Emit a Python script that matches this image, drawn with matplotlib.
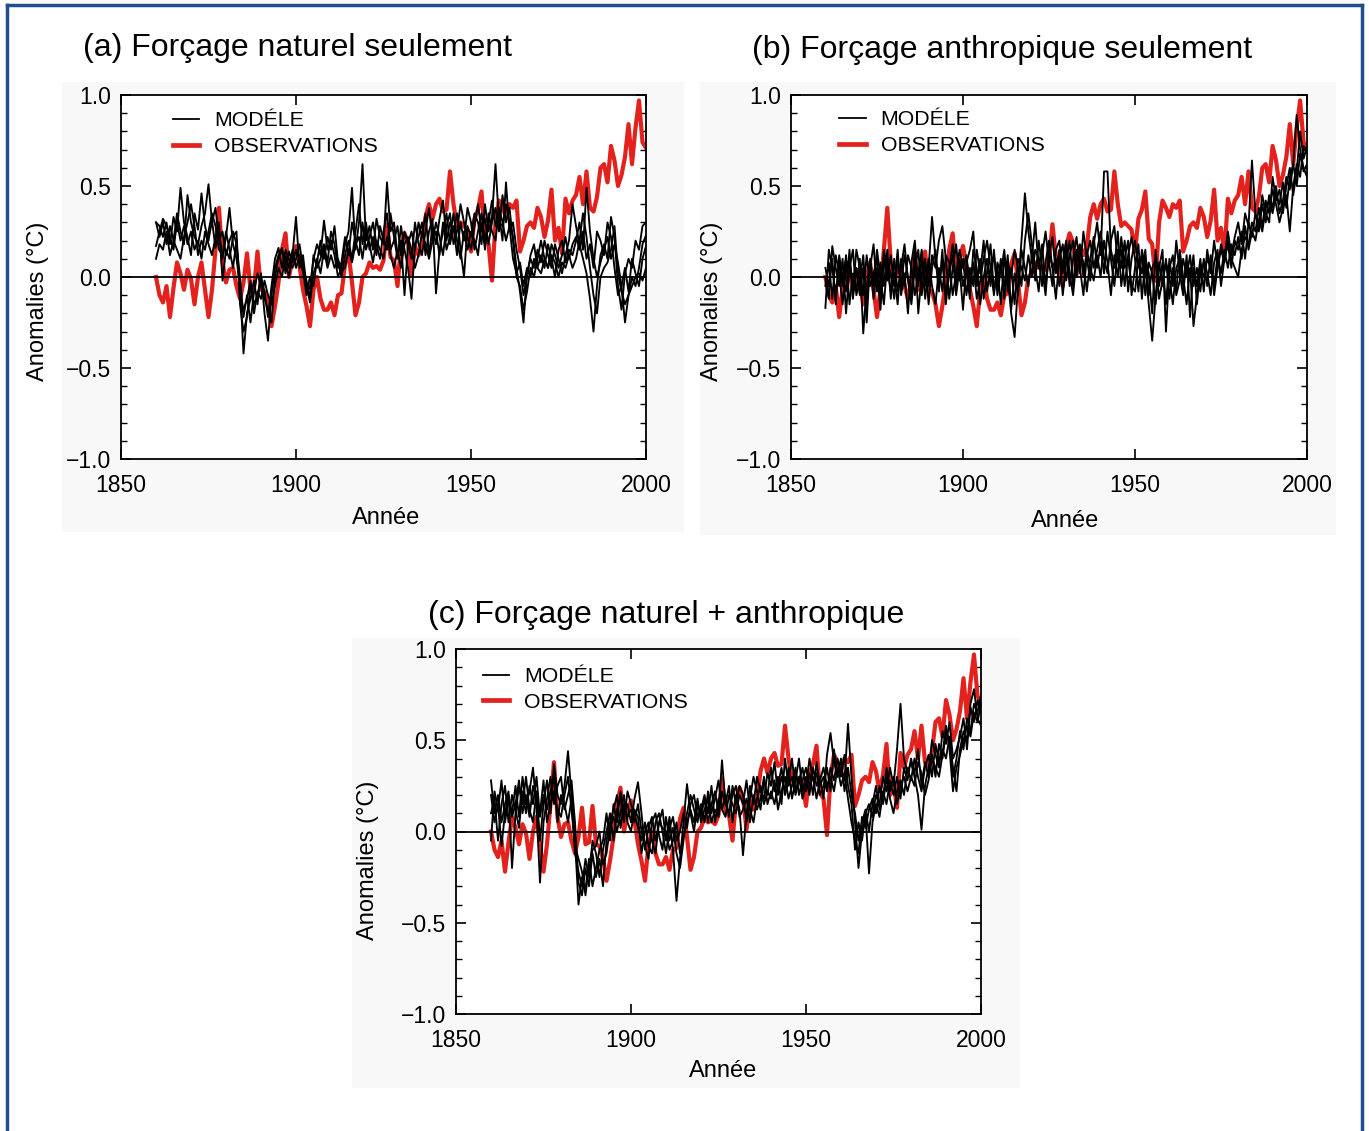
import numpy as np
import matplotlib
matplotlib.use("Agg")
import matplotlib.pyplot as plt
from matplotlib.lines import Line2D
from matplotlib.patches import Rectangle
from matplotlib.ticker import FuncFormatter

plt.rcParams['font.family'] = ['Liberation Sans', 'DejaVu Sans']

W, H = 1369, 1131
years = np.arange(1860, 2001)

# observed global mean anomalies (same red curve in all three panels)
obs = [
    0.00, -0.10, -0.14, -0.05, -0.22, -0.06, 0.08, 0.02, -0.07, 0.04,
    -0.01, -0.15, 0.00, 0.08, -0.07, -0.22, -0.07, 0.15, 0.38, 0.08,
    -0.03, 0.04, 0.05, -0.05, -0.12, -0.03, 0.13, -0.07, -0.06, 0.14,
    -0.07, -0.08, -0.15, -0.27, -0.16, -0.03, 0.15, 0.24, 0.00, 0.10,
    0.17, 0.06, -0.07, -0.16, -0.27, -0.07, 0.00, -0.12, -0.18, -0.18,
    -0.14, -0.21, -0.10, -0.09, 0.07, 0.13, -0.03, -0.21, -0.14, 0.00,
    0.02, 0.08, 0.05, 0.06, 0.04, 0.09, 0.29, 0.11, 0.09, -0.05,
    0.17, 0.24, 0.19, 0.01, 0.17, 0.12, 0.17, 0.33, 0.40, 0.32,
    0.40, 0.43, 0.36, 0.37, 0.58, 0.40, 0.28, 0.30, 0.28, 0.26,
    0.14, 0.32, 0.37, 0.47, 0.21, 0.18, -0.02, 0.30, 0.42, 0.38,
    0.33, 0.40, 0.38, 0.42, 0.14, 0.20, 0.28, 0.30, 0.27, 0.38,
    0.33, 0.22, 0.31, 0.48, 0.20, 0.27, 0.13, 0.43, 0.35, 0.42,
    0.45, 0.55, 0.40, 0.58, 0.38, 0.36, 0.44, 0.60, 0.62, 0.52,
    0.72, 0.64, 0.50, 0.56, 0.66, 0.84, 0.62, 0.82, 0.97, 0.74,
    0.71,
]

# (a) natural forcing only - four model runs
nat_1 = [
    0.30, 0.28, 0.22, 0.30, 0.18, 0.33, 0.25, 0.49, 0.30, 0.22,
    0.12, 0.35, 0.26, 0.46, 0.28, 0.20, 0.31, 0.16, 0.25, 0.10,
    0.22, 0.38, 0.18, 0.10, -0.05, -0.42, -0.20, -0.12, -0.02, -0.15,
    0.02, -0.20, -0.35, -0.10, 0.05, 0.12, 0.16, 0.02, 0.14, 0.08,
    0.15, 0.10, 0.03, -0.10, -0.05, 0.10, 0.18, 0.12, 0.31, 0.15,
    0.20, 0.12, 0.00, 0.05, 0.18, 0.25, 0.49, 0.15, 0.30, 0.62,
    0.20, 0.28, 0.15, 0.32, 0.22, 0.18, 0.52, 0.25, 0.30, 0.12,
    0.20, -0.10, 0.18, 0.25, 0.15, 0.30, 0.22, 0.35, 0.12, 0.28,
    0.18, 0.32, 0.42, 0.20, 0.30, 0.25, 0.35, 0.15, 0.00, 0.28,
    0.22, 0.35, 0.30, 0.18, 0.40, 0.25, 0.33, 0.62, 0.30, 0.28,
    0.40, 0.30, 0.22, 0.05, -0.08, -0.25, 0.02, 0.10, 0.05, 0.15,
    0.08, 0.20, 0.12, 0.05, 0.18, 0.10, 0.02, 0.12, 0.20, 0.40,
    0.28, 0.18, 0.10, 0.02, -0.12, -0.30, -0.05, 0.12, 0.18, 0.10,
    0.33, 0.22, -0.05, -0.18, 0.02, 0.10, 0.05, 0.20, 0.15, 0.28,
    0.30,
]
nat_2 = [
    0.30, 0.22, 0.30, 0.18, 0.28, 0.20, 0.35, 0.25, 0.18, 0.45,
    0.30, 0.22, 0.18, 0.28, 0.35, 0.51, 0.30, 0.38, 0.20, 0.25,
    0.12, 0.20, 0.25, 0.18, 0.00, -0.22, -0.10, -0.25, -0.08, 0.02,
    -0.05, -0.12, -0.18, -0.25, 0.00, 0.10, 0.15, 0.08, 0.00, 0.12,
    0.33, 0.05, 0.12, -0.05, -0.14, 0.02, 0.08, 0.20, 0.10, 0.22,
    0.15, 0.28, 0.08, 0.00, 0.12, 0.20, 0.10, 0.25, 0.40, 0.18,
    0.30, 0.15, 0.22, 0.12, 0.28, 0.20, 0.15, 0.35, 0.22, 0.10,
    0.28, 0.15, 0.05, -0.12, 0.18, 0.22, 0.30, 0.12, 0.25, 0.32,
    -0.09, 0.15, 0.25, 0.35, 0.18, 0.28, 0.12, 0.30, 0.20, 0.38,
    0.30, 0.15, 0.25, 0.35, 0.20, 0.30, 0.42, 0.28, 0.35, 0.20,
    0.52, 0.25, 0.30, 0.15, 0.05, -0.10, 0.00, 0.12, 0.18, 0.05,
    0.12, 0.05, 0.18, 0.10, 0.00, 0.15, 0.20, 0.08, 0.15, 0.12,
    0.20, 0.30, 0.15, 0.49, 0.25, 0.10, 0.00, 0.08, 0.15, 0.22,
    0.10, 0.18, 0.08, -0.05, -0.25, -0.10, 0.00, -0.05, 0.05, 0.18,
    0.23,
]
nat_3 = [
    0.17, 0.25, 0.32, 0.28, 0.22, 0.15, 0.30, 0.20, 0.28, 0.18,
    0.25, 0.15, 0.20, 0.10, 0.25, 0.18, 0.12, 0.22, 0.30, -0.02,
    0.15, 0.10, 0.22, 0.25, -0.15, -0.30, -0.22, -0.05, -0.15, -0.10,
    0.00, -0.08, -0.22, -0.05, 0.10, 0.16, 0.05, 0.15, 0.10, 0.05,
    0.10, 0.18, 0.05, -0.02, -0.12, 0.12, 0.05, 0.10, 0.18, 0.08,
    0.25, 0.18, 0.05, 0.08, 0.22, 0.12, 0.30, 0.20, 0.12, 0.30,
    0.15, 0.22, 0.30, 0.18, 0.10, 0.25, 0.35, 0.15, 0.20, 0.28,
    0.12, 0.25, 0.18, 0.10, 0.30, 0.18, 0.12, 0.25, 0.38, 0.20,
    0.30, 0.22, 0.12, 0.28, 0.35, 0.18, 0.25, 0.40, 0.30, 0.22,
    0.15, 0.28, 0.40, 0.25, 0.32, 0.18, 0.30, 0.38, 0.25, 0.45,
    0.30, 0.38, 0.20, 0.00, -0.05, -0.18, -0.08, 0.05, 0.00, 0.10,
    0.20, 0.10, 0.05, 0.18, 0.12, 0.05, 0.12, 0.22, 0.10, 0.18,
    0.22, 0.15, 0.25, 0.10, 0.18, 0.05, 0.25, 0.20, 0.12, 0.30,
    0.22, 0.05, -0.10, -0.05, 0.05, -0.08, 0.10, 0.02, -0.05, 0.10,
    0.17,
]
nat_4 = [
    0.10, 0.18, 0.15, 0.25, 0.12, 0.20, 0.15, 0.10, 0.22, 0.30,
    0.40, 0.28, 0.12, 0.20, 0.15, 0.25, 0.35, 0.28, 0.15, 0.12,
    0.25, 0.15, 0.05, 0.20, -0.10, -0.18, -0.12, -0.02, -0.20, -0.08,
    -0.12, -0.02, -0.10, -0.15, -0.05, 0.05, 0.00, 0.12, 0.05, 0.15,
    0.05, 0.12, 0.08, -0.08, 0.00, -0.05, 0.10, 0.02, 0.15, 0.05,
    0.12, 0.05, 0.10, 0.03, 0.05, 0.15, 0.08, 0.18, 0.22, 0.10,
    0.25, 0.18, 0.08, 0.20, 0.15, 0.10, 0.22, 0.12, 0.05, 0.15,
    0.05, 0.18, 0.22, 0.15, 0.05, 0.12, 0.25, 0.18, 0.10, 0.20,
    0.25, 0.12, 0.30, 0.15, 0.22, 0.35, 0.20, 0.10, 0.25, 0.15,
    0.25, 0.20, 0.12, 0.30, 0.15, 0.35, 0.25, 0.20, 0.38, 0.30,
    0.20, 0.28, 0.10, 0.02, 0.08, -0.05, 0.05, 0.00, 0.10, 0.05,
    0.02, 0.10, 0.05, 0.12, 0.08, 0.00, 0.08, 0.05, 0.12, 0.05,
    0.10, 0.20, 0.35, 0.22, 0.05, -0.10, -0.20, 0.00, 0.05, 0.08,
    0.15, 0.28, 0.02, -0.08, -0.15, -0.10, -0.05, 0.00, 0.02, -0.02,
    0.05,
]

# (b) anthropogenic forcing only
ant_1 = [
    -0.17, 0.15, 0.05, -0.10, 0.08, -0.05, 0.12, -0.15, 0.02, -0.08,
    0.10, -0.31, -0.05, 0.08, -0.12, 0.05, -0.18, 0.10, -0.02, 0.12,
    -0.05, 0.15, -0.10, 0.02, -0.20, 0.08, 0.20, -0.05, 0.10, -0.12,
    0.05, 0.33, 0.10, -0.08, 0.15, -0.15, 0.02, 0.12, -0.10, 0.05,
    -0.18, 0.08, 0.15, 0.25, -0.05, 0.10, -0.12, 0.02, 0.18, -0.08,
    0.05, -0.15, 0.10, 0.00, -0.20, -0.33, -0.05, 0.20, 0.46, 0.25,
    0.10, 0.30, 0.05, 0.18, -0.05, 0.12, 0.22, 0.02, 0.15, -0.10,
    0.08, 0.20, -0.05, 0.15, 0.02, 0.25, 0.10, -0.02, 0.18, 0.30,
    0.12, 0.58, 0.58, 0.15, 0.05, 0.25, -0.05, 0.10, 0.20, -0.10,
    0.05, 0.18, -0.12, 0.10, 0.02, -0.20, 0.15, -0.05, 0.08, -0.15,
    0.10, -0.05, 0.20, 0.02, -0.10, 0.12, -0.22, 0.05, -0.05, 0.10,
    -0.08, 0.15, 0.02, 0.20, 0.05, 0.18, 0.10, 0.25, 0.12, 0.22,
    0.30, 0.18, 0.35, 0.28, 0.64, 0.35, 0.25, 0.40, 0.30, 0.45,
    0.38, 0.50, 0.35, 0.42, 0.55, 0.48, 0.62, 0.89, 0.70, 0.60,
    0.55,
]
ant_2 = [
    0.00, -0.12, 0.17, 0.05, -0.05, 0.10, -0.20, 0.05, 0.15, -0.10,
    -0.02, 0.12, -0.15, 0.05, 0.18, -0.08, 0.08, -0.05, 0.15, -0.12,
    0.10, -0.08, 0.05, 0.18, -0.02, -0.15, 0.05, 0.15, -0.10, 0.08,
    -0.05, 0.12, 0.05, 0.20, 0.28, 0.10, -0.12, 0.05, 0.18, -0.02,
    0.10, -0.10, 0.05, -0.05, 0.15, 0.02, 0.20, -0.08, 0.05, 0.12,
    -0.05, 0.10, -0.12, 0.08, 0.00, 0.15, 0.05, -0.05, 0.20, 0.35,
    0.18, 0.05, -0.08, 0.12, 0.25, 0.08, -0.05, 0.15, 0.20, 0.02,
    0.15, -0.05, 0.10, 0.22, 0.05, -0.10, 0.12, 0.20, 0.05, 0.15,
    0.25, 0.10, 0.02, 0.20, 0.28, 0.08, 0.15, -0.05, 0.12, 0.22,
    0.10, -0.08, 0.15, 0.05, -0.15, -0.35, -0.10, 0.08, -0.05, 0.10,
    -0.12, 0.05, -0.08, 0.15, 0.00, -0.15, 0.05, -0.27, -0.10, 0.02,
    0.08, -0.05, 0.12, -0.10, 0.05, 0.15, 0.08, 0.20, 0.10, 0.05,
    0.00, 0.15, 0.22, 0.18, 0.30, 0.25, 0.38, 0.28, 0.42, 0.35,
    0.48, 0.40, 0.30, 0.38, 0.45, 0.25, 0.50, 0.62, 0.55, 0.72,
    0.68,
]
ant_3 = [
    -0.05, 0.08, -0.12, 0.12, 0.02, -0.15, 0.05, 0.10, -0.08, 0.15,
    0.05, -0.10, 0.12, -0.05, 0.02, 0.10, -0.12, 0.15, 0.05, -0.08,
    0.02, -0.15, 0.10, -0.05, 0.12, 0.05, -0.10, 0.02, 0.15, -0.05,
    0.10, -0.05, -0.15, 0.05, -0.08, 0.12, 0.08, -0.10, 0.02, 0.15,
    0.05, 0.12, -0.05, 0.08, -0.12, -0.02, 0.10, 0.20, 0.05, -0.10,
    0.08, 0.02, 0.15, -0.08, 0.05, -0.15, 0.10, 0.05, -0.02, 0.12,
    0.00, 0.15, 0.10, -0.05, 0.08, 0.20, 0.05, -0.12, 0.10, 0.18,
    -0.02, 0.12, 0.20, 0.00, 0.15, 0.08, -0.08, 0.10, 0.22, 0.05,
    0.18, 0.02, 0.25, 0.10, -0.05, 0.15, 0.05, 0.20, -0.08, 0.10,
    0.20, 0.05, 0.12, -0.10, 0.08, 0.02, -0.15, 0.05, 0.15, -0.30,
    0.05, 0.12, -0.10, -0.02, 0.10, 0.00, 0.12, -0.05, 0.05, -0.08,
    0.10, 0.02, -0.10, 0.08, 0.15, -0.05, 0.10, 0.18, 0.05, 0.20,
    0.15, 0.25, 0.10, 0.30, 0.22, 0.35, 0.28, 0.45, 0.35, 0.30,
    0.55, 0.42, 0.48, 0.35, 0.50, 0.60, 0.45, 0.58, 0.80, 0.65,
    0.72,
]
ant_4 = [
    0.05, -0.05, 0.10, -0.15, 0.12, 0.00, -0.08, 0.15, -0.12, 0.05,
    -0.10, 0.05, -0.25, 0.10, -0.05, 0.15, 0.00, -0.15, 0.08, 0.02,
    -0.12, 0.10, -0.05, 0.12, 0.00, -0.10, 0.15, -0.20, 0.02, 0.10,
    -0.15, 0.05, 0.15, -0.05, 0.08, -0.10, 0.05, 0.18, -0.05, 0.10,
    -0.05, 0.05, -0.12, 0.15, 0.05, -0.15, 0.00, 0.10, -0.05, 0.15,
    -0.10, 0.05, -0.05, 0.12, -0.18, 0.02, -0.10, 0.15, 0.05, -0.05,
    0.12, -0.02, 0.20, 0.05, -0.10, 0.15, 0.05, 0.10, -0.05, 0.08,
    0.20, 0.02, -0.10, 0.10, 0.18, 0.00, 0.15, 0.05, -0.02, 0.12,
    0.00, 0.20, 0.08, -0.10, 0.12, 0.00, 0.22, 0.05, 0.10, -0.05,
    -0.08, 0.10, 0.02, 0.15, -0.10, 0.05, 0.10, -0.12, -0.02, 0.08,
    0.00, -0.15, 0.05, 0.10, -0.05, 0.08, -0.02, 0.12, -0.15, 0.05,
    0.00, 0.10, 0.05, -0.05, 0.12, 0.02, 0.15, 0.05, 0.18, 0.12,
    0.22, 0.10, 0.28, 0.15, 0.25, 0.20, 0.32, 0.25, 0.38, 0.42,
    0.35, 0.45, 0.40, 0.52, 0.38, 0.55, 0.62, 0.50, 0.68, 0.58,
    0.62,
]

# (c) natural + anthropogenic forcing
all_1 = [
    0.28, 0.10, 0.20, 0.05, 0.15, 0.22, -0.20, 0.10, 0.25, 0.15,
    0.30, 0.12, 0.05, 0.22, -0.05, 0.15, 0.28, 0.10, 0.37, 0.20,
    0.15, 0.25, 0.44, 0.20, -0.05, -0.40, -0.25, -0.32, -0.15, -0.30,
    -0.20, -0.10, -0.05, 0.10, -0.05, 0.15, 0.05, 0.22, 0.10, 0.15,
    0.05, 0.18, 0.27, 0.10, -0.10, 0.02, 0.08, -0.05, 0.05, 0.12,
    -0.05, 0.08, -0.10, -0.38, -0.15, 0.05, 0.26, 0.10, 0.00, 0.15,
    0.08, 0.18, 0.05, 0.15, 0.22, 0.10, 0.39, 0.15, 0.25, 0.05,
    0.20, 0.12, -0.13, 0.10, 0.25, 0.15, 0.30, 0.22, 0.18, 0.32,
    0.25, 0.38, 0.20, 0.30, 0.22, 0.35, 0.18, 0.28, 0.40, 0.22,
    0.30, 0.20, 0.35, 0.25, 0.30, 0.18, 0.42, 0.54, 0.38, 0.30,
    0.35, 0.28, 0.59, 0.30, 0.05, -0.20, 0.00, 0.10, 0.15, 0.08,
    0.20, 0.15, 0.30, 0.22, 0.35, 0.25, 0.45, 0.70, 0.40, 0.32,
    0.38, 0.30, 0.20, 0.01, 0.25, 0.35, 0.42, 0.30, 0.48, 0.40,
    0.55, 0.50, 0.35, 0.22, 0.45, 0.55, 0.50, 0.68, 0.60, 0.72,
    0.65,
]
all_2 = [
    -0.05, 0.22, 0.12, 0.28, 0.05, 0.18, 0.10, 0.25, 0.08, 0.30,
    0.15, 0.22, 0.35, 0.12, -0.28, 0.05, 0.18, 0.30, 0.15, 0.25,
    0.30, 0.12, 0.20, 0.28, 0.05, -0.28, -0.35, -0.20, -0.30, -0.12,
    -0.25, -0.15, -0.30, -0.05, 0.05, 0.12, 0.20, 0.02, 0.15, 0.08,
    0.12, 0.05, 0.15, 0.00, -0.08, -0.15, 0.05, 0.10, -0.02, -0.10,
    0.08, -0.05, 0.02, -0.12, -0.20, -0.05, 0.10, 0.20, 0.12, 0.05,
    0.15, 0.05, 0.22, 0.10, 0.18, 0.28, 0.12, 0.20, 0.08, 0.25,
    0.15, 0.25, 0.20, 0.05, 0.18, 0.30, 0.22, 0.12, 0.28, 0.20,
    0.35, 0.22, 0.30, 0.15, 0.40, 0.25, 0.30, 0.20, 0.28, 0.35,
    0.22, 0.32, 0.20, 0.38, 0.25, 0.30, 0.22, 0.35, 0.28, 0.40,
    0.30, 0.42, 0.25, 0.15, -0.10, 0.05, -0.05, 0.10, -0.23, 0.05,
    0.15, 0.08, 0.22, 0.15, 0.28, 0.20, 0.30, 0.18, 0.35, 0.28,
    0.40, 0.32, 0.45, 0.25, 0.38, 0.30, 0.50, 0.42, 0.35, 0.55,
    0.48, 0.60, 0.40, 0.45, 0.52, 0.62, 0.45, 0.70, 0.78, 0.62,
    0.58,
]
all_3 = [
    0.10, 0.18, -0.05, 0.15, 0.25, 0.05, 0.20, 0.12, 0.02, 0.22,
    0.10, 0.25, 0.15, 0.30, 0.08, 0.20, 0.12, 0.22, 0.30, 0.05,
    0.20, 0.15, 0.05, 0.18, -0.12, -0.22, -0.30, -0.15, -0.25, -0.05,
    -0.12, -0.25, -0.10, 0.00, 0.10, -0.05, 0.12, 0.18, 0.05, 0.22,
    0.15, 0.10, 0.02, -0.05, 0.05, -0.08, -0.12, 0.05, 0.10, 0.00,
    -0.12, 0.02, 0.08, -0.05, 0.00, 0.10, 0.02, 0.15, 0.20, 0.08,
    0.12, 0.20, 0.10, 0.25, 0.05, 0.18, 0.12, 0.08, 0.20, 0.15,
    0.10, 0.20, 0.15, 0.28, 0.12, 0.05, 0.18, 0.25, 0.15, 0.22,
    0.18, 0.28, 0.12, 0.22, 0.30, 0.18, 0.25, 0.35, 0.20, 0.28,
    0.35, 0.25, 0.30, 0.18, 0.28, 0.35, 0.25, 0.30, 0.22, 0.35,
    0.25, 0.32, 0.18, 0.05, -0.05, -0.12, 0.08, 0.02, 0.12, 0.18,
    0.10, 0.25, 0.15, 0.30, 0.18, 0.10, 0.22, 0.28, 0.20, 0.35,
    0.28, 0.40, 0.30, 0.22, 0.35, 0.42, 0.30, 0.48, 0.38, 0.45,
    0.40, 0.52, 0.30, 0.40, 0.55, 0.45, 0.62, 0.55, 0.70, 0.65,
    0.75,
]
all_4 = [
    0.20, 0.05, 0.15, -0.08, 0.10, 0.20, 0.08, 0.15, 0.28, 0.10,
    0.20, 0.08, 0.25, 0.18, 0.10, 0.28, 0.05, 0.15, 0.22, 0.12,
    0.08, 0.20, 0.30, 0.12, -0.08, -0.15, -0.22, -0.35, -0.18, -0.10,
    -0.08, 0.00, -0.18, -0.12, 0.02, 0.08, 0.00, 0.10, 0.20, 0.05,
    0.00, 0.12, 0.08, -0.12, 0.00, 0.05, -0.05, -0.12, 0.05, 0.02,
    0.00, -0.10, -0.05, 0.05, -0.12, -0.02, 0.05, 0.12, 0.05, 0.18,
    0.05, 0.12, 0.18, 0.05, 0.12, 0.08, 0.22, 0.15, 0.10, 0.20,
    0.25, 0.08, 0.12, 0.18, 0.05, 0.20, 0.12, 0.18, 0.30, 0.15,
    0.22, 0.15, 0.25, 0.35, 0.20, 0.28, 0.40, 0.22, 0.30, 0.18,
    0.25, 0.40, 0.28, 0.32, 0.20, 0.25, 0.35, 0.22, 0.45, 0.30,
    0.40, 0.22, 0.35, 0.20, 0.10, -0.05, 0.05, 0.12, 0.00, 0.15,
    0.25, 0.12, 0.18, 0.35, 0.22, 0.30, 0.15, 0.25, 0.30, 0.22,
    0.30, 0.25, 0.38, 0.32, 0.20, 0.28, 0.40, 0.35, 0.30, 0.42,
    0.58, 0.45, 0.22, 0.35, 0.42, 0.50, 0.58, 0.52, 0.65, 0.60,
    0.70,
]

titles = ["(a) Forçage naturel seulement",
          "(b) Forçage anthropique seulement",
          "(c) Forçage naturel + anthropique"]
runs = [[nat_1, nat_2, nat_3, nat_4],
        [ant_1, ant_2, ant_3, ant_4],
        [all_1, all_2, all_3, all_4]]

RED = "#e3221e"
BLUE = "#1f4f8e"

# pixel boxes: left, top, right, bottom
boxes = [(121, 95, 646, 459), (791, 95, 1307, 459), (456, 649, 981, 1014)]
title_pos = [(83, 48), (752, 50), (428, 615)]
ylab_pos = [(38, 301), (712, 301), (368, 860)]
xlab_pos = [(386, 518), (1065, 521), (723, 1071)]
bg_boxes = [(62, 82, 684, 532), (700, 82, 1336, 535), (352, 638, 1020, 1088)]
legend_anchor = [(0.082, 0.979), (0.077, 0.981), (0.035, 0.974)]


def fx(px):
    return px / W


def fy(py):
    return 1 - py / H


def minus_fmt(v, pos):
    return f"{v:.1f}".replace("-", "\u2212")


fig = plt.figure(figsize=(W / 100, H / 100), dpi=100)
fig.patch.set_facecolor("white")

for (l, t, r, b) in bg_boxes:
    fig.patches.append(Rectangle((fx(l), fy(b)), fx(r) - fx(l), fy(t) - fy(b),
                                 transform=fig.transFigure, facecolor="#f8f8f8",
                                 edgecolor="none", zorder=-5))

for i in range(3):
    l, t, r, b = boxes[i]
    ax = fig.add_axes([fx(l), fy(b), fx(r) - fx(l), fy(t) - fy(b)])
    ax.set_zorder(2)
    ax.set_facecolor("white")
    ax.plot(years, obs, color=RED, lw=3.0, zorder=2)
    for run in runs[i]:
        ax.plot(years, run, color="black", lw=1.35, zorder=3)
    ax.axhline(0, color="black", lw=1.3, zorder=4)
    ax.set_xlim(1850, 2000)
    ax.set_ylim(-1.0, 1.0)
    ax.set_xticks([1850, 1900, 1950, 2000])
    ax.set_yticks([-1.0, -0.5, 0.0, 0.5, 1.0])
    ax.set_yticks(np.arange(-1.0, 1.01, 0.1), minor=True)
    ax.yaxis.set_major_formatter(FuncFormatter(minus_fmt))
    ax.tick_params(axis="both", which="major", direction="in", top=True,
                   right=True, length=7, width=1.2, labelsize=16.5)
    ax.tick_params(axis="x", pad=11)
    ax.tick_params(axis="y", pad=7)
    ax.tick_params(axis="y", which="minor", direction="in", right=True,
                   length=4, width=1.0)
    for s in ax.spines.values():
        s.set_linewidth(1.3)

    handles = [Line2D([], [], color="black", lw=1.3),
               Line2D([], [], color=RED, lw=3.4)]
    ax.legend(handles, ["MODÉLE", "OBSERVATIONS"], loc="upper left",
              bbox_to_anchor=legend_anchor[i], frameon=False,
              fontsize=15.3, handlelength=1.25, handletextpad=0.7,
              labelspacing=0.32, borderaxespad=0)

    fig.text(fx(title_pos[i][0]), fy(title_pos[i][1]), titles[i],
             fontsize=23, ha="left", va="center")
    fig.text(fx(ylab_pos[i][0]), fy(ylab_pos[i][1]), "Anomalies (°C)",
             fontsize=17, rotation=90, ha="center", va="center")
    fig.text(fx(xlab_pos[i][0]), fy(xlab_pos[i][1]), "Année",
             fontsize=17, ha="center", va="center")

# blue frame round the page (bottom edge is cut off in the original)
fig.add_artist(Line2D([fx(7), fx(7)], [0, fy(5)], color=BLUE, lw=2.5,
                      transform=fig.transFigure))
fig.add_artist(Line2D([fx(7), fx(1362)], [fy(5), fy(5)], color=BLUE, lw=2.5,
                      transform=fig.transFigure))
fig.add_artist(Line2D([fx(1362), fx(1362)], [fy(5), 0], color=BLUE, lw=2.5,
                      transform=fig.transFigure))

fig.savefig("out.png", dpi=100)
